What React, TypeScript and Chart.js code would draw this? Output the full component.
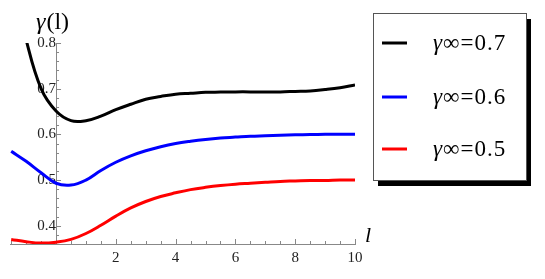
import { useEffect, useRef } from 'react';
import { Chart, registerables } from 'chart.js';

Chart.register(...registerables);

const lValues = [-1.5, -1, -0.5, 0, 0.5, 1, 1.5, 2, 2.5, 3, 3.5, 4, 4.5, 5, 5.5, 6, 6.5, 7, 7.5, 8, 8.5, 9, 9.5, 10];
const gamma07 = [0.95, 0.807, 0.700, 0.651, 0.630, 0.630, 0.640, 0.654, 0.666, 0.677, 0.683, 0.688, 0.690, 0.692, 0.6925, 0.693, 0.693, 0.693, 0.693, 0.694, 0.695, 0.698, 0.702, 0.708];
const gamma06 = [0.563, 0.541, 0.516, 0.493, 0.489, 0.500, 0.521, 0.539, 0.553, 0.564, 0.573, 0.580, 0.585, 0.589, 0.592, 0.594, 0.596, 0.597, 0.598, 0.599, 0.5995, 0.600, 0.600, 0.600];
const gamma05 = [0.370, 0.365, 0.362, 0.364, 0.370, 0.383, 0.401, 0.421, 0.439, 0.453, 0.464, 0.472, 0.479, 0.484, 0.488, 0.491, 0.493, 0.495, 0.497, 0.498, 0.499, 0.499, 0.500, 0.500];
const seriesLabels = ['γ∞=0.7', 'γ∞=0.6', 'γ∞=0.5'];
const seriesColors = ['#000000', '#0000ff', '#ff0000'];
const xTickValues = [0, 2, 4, 6, 8, 10];
const yTickValues = [0.4, 0.5, 0.6, 0.7, 0.8];
const xLimits = [-1.54, 10];
const yLimits = [0.36, 0.8];
const xMinorStep = 0.5;
const yMinorStep = 0.02;
const yAxisTitle = ['γ', '(l)'];
const xAxisTitle = 'l';

const SERIF = '"Liberation Serif", serif';

const toPoints = (ys: (number | null)[]) =>
  lValues.map((x, i) => ({ x, y: ys[i] })).filter((p) => p.y !== null);

const axesPlugin = {
  id: 'mmaAxes',
  beforeDatasetsDraw(chart: any) {
    const { ctx, scales } = chart;
    const xs = scales.x;
    const ys = scales.y;
    const x0 = xs.getPixelForValue(0);
    const yb = ys.bottom;
    ctx.save();
    ctx.strokeStyle = '#888888';
    ctx.lineWidth = 1;
    ctx.beginPath();
    for (let v = yLimits[0]; v <= yLimits[1] + 1e-9; v += yMinorStep) {
      const r = Math.round(v * 100) / 100;
      const major = yTickValues.some((t) => Math.abs(t - r) < 1e-6);
      const py = Math.round(ys.getPixelForValue(r)) + 0.5;
      ctx.moveTo(x0, py);
      ctx.lineTo(x0 + (major ? 5 : 3), py);
    }
    const start = Math.ceil(xLimits[0] / xMinorStep) * xMinorStep;
    for (let v = start; v <= xLimits[1] + 1e-9; v += xMinorStep) {
      const major = xTickValues.some((t) => Math.abs(t - v) < 1e-6);
      const px = Math.round(xs.getPixelForValue(v)) + 0.5;
      ctx.moveTo(px, yb);
      ctx.lineTo(px, yb - (major ? 5 : 3));
    }
    ctx.stroke();
    ctx.restore();
  },
  afterDraw(chart: any) {
    const { ctx, scales, data } = chart;
    const xs = scales.x;
    const ys = scales.y;
    ctx.save();
    ctx.fillStyle = '#000';
    ctx.textBaseline = 'alphabetic';
    ctx.font = `italic 24px ${SERIF}`;
    ctx.textAlign = 'left';
    const tx = 36;
    ctx.fillText(yAxisTitle[0], tx, 29);
    const w = ctx.measureText(yAxisTitle[0]).width;
    ctx.font = `24px ${SERIF}`;
    ctx.fillText(yAxisTitle[1], tx + w + 1, 29);
    ctx.font = `italic 22px ${SERIF}`;
    ctx.fillText(xAxisTitle, xs.right + 10, ys.bottom - 2);

    const bx = 373, by = 13, bw = 153, bh = 167;
    ctx.fillStyle = '#000';
    ctx.fillRect(bx + 5, by + 6, bw, bh);
    ctx.fillStyle = '#fff';
    ctx.fillRect(bx, by, bw, bh);
    ctx.strokeStyle = '#555';
    ctx.lineWidth = 1;
    ctx.strokeRect(bx + 0.5, by + 0.5, bw, bh);
    const rows = [43, 97, 149];
    data.datasets.forEach((ds: any, i: number) => {
      const y = rows[i];
      ctx.strokeStyle = ds.borderColor;
      ctx.lineWidth = 3;
      ctx.beginPath();
      ctx.moveTo(382, y);
      ctx.lineTo(407, y);
      ctx.stroke();
      ctx.fillStyle = '#000';
      ctx.textBaseline = 'middle';
      ctx.letterSpacing = '1px';
      const label: string = ds.label;
      ctx.font = `italic 23px ${SERIF}`;
      ctx.fillText(label[0], 433, y + 1);
      const gw = ctx.measureText(label[0]).width;
      ctx.font = `23px ${SERIF}`;
      ctx.fillText(label.slice(1), 433 + gw, y + 1);
      ctx.letterSpacing = '0px';
    });
    ctx.restore();
  },
};

export default function App() {
  const ref = useRef<HTMLCanvasElement>(null);
  useEffect(() => {
    document.body.style.margin = '0';
    const canvas = ref.current;
    if (!canvas) return;
    const chart = new Chart(canvas, {
      type: 'line',
      data: {
        datasets: [gamma07, gamma06, gamma05].map((ys, i) => ({
          label: seriesLabels[i],
          data: toPoints(ys),
          borderColor: seriesColors[i],
          backgroundColor: seriesColors[i],
          borderWidth: 3,
          pointRadius: 0,
          fill: false,
          tension: 0.4,
        })),
      },
      options: {
        animation: false,
        responsive: false,
        layout: { padding: { left: 10, right: 190, top: 43, bottom: 7 } },
        plugins: { legend: { display: false }, tooltip: { enabled: false } },
        scales: {
          x: {
            type: 'linear',
            min: xLimits[0],
            max: xLimits[1],
            position: 'bottom',
            grid: { display: false, drawTicks: false },
            border: { display: true, color: '#888888', width: 1 },
            afterBuildTicks: (scale: any) => {
              scale.ticks = xTickValues.map((value) => ({ value }));
            },
            ticks: {
              autoSkip: false,
              maxRotation: 0,
              padding: 5,
              color: '#222',
              font: { family: SERIF, size: 15 },
              callback: (v: any) => (Number(v) === 0 ? '' : String(v)),
            },
          },
          y: {
            type: 'linear',
            min: yLimits[0],
            max: yLimits[1],
            position: { x: 0 } as any,
            grid: { display: false, drawTicks: false },
            border: { display: true, color: '#888888', width: 1 },
            afterBuildTicks: (scale: any) => {
              scale.ticks = yTickValues.map((value) => ({ value }));
            },
            ticks: {
              autoSkip: false,
              padding: 4,
              color: '#222',
              font: { family: SERIF, size: 15 },
              callback: (v: any) => Number(v).toFixed(1),
            },
          },
        },
      },
      plugins: [axesPlugin],
    });
    return () => chart.destroy();
  }, []);
  return (
    <div style={{ width: 545, height: 279 }}>
      <canvas ref={ref} width={545} height={279} />
    </div>
  );
}
